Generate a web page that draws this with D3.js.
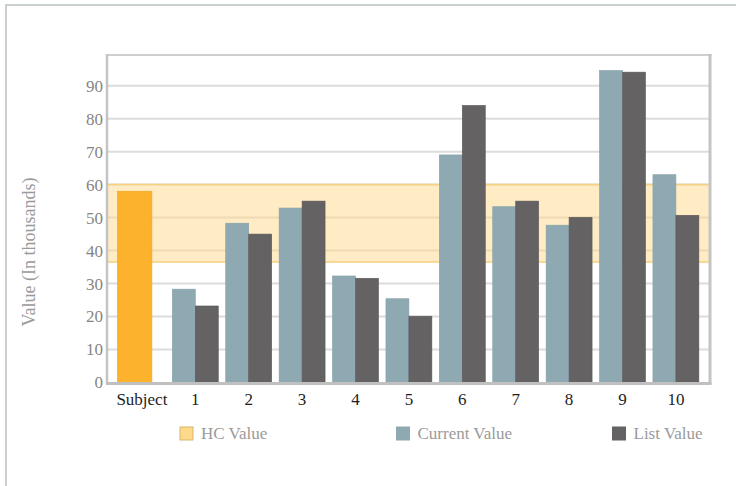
<!DOCTYPE html>
<html>
<head>
<meta charset="utf-8">
<script src="https://cdn.jsdelivr.net/npm/d3@7"></script>
<style>
  body { margin: 0; background: #fff; }
  svg text { font-family: "Liberation Serif", "Times New Roman", serif; }
  .axis path, .axis line { display: none; }
</style>
</head>
<body>
<svg id="chart" width="736" height="486"></svg>
<script>
var categories = ["Subject", "1", "2", "3", "4", "5", "6", "7", "8", "9", "10"];
var subjectValue = 58;
var currentValues = [28.3, 48.3, 52.9, 32.3, 25.4, 69.0, 53.3, 47.7, 94.6, 63.0];
var listValues = [23.2, 45.0, 55.0, 31.6, 20.1, 84.0, 55.0, 50.1, 94.1, 50.7];
var hcRange = [36.5, 60];
var yTicks = [0, 10, 20, 30, 40, 50, 60, 70, 80, 90];
var legendLabels = ["HC Value", "Current Value", "List Value"];

var svg = d3.select("#chart"),
    plot = {left: 107, right: 710, top: 55, bottom: 382.5};

// outer frame
svg.append("rect")
    .attr("x", 6).attr("y", 5)
    .attr("width", 760).attr("height", 520)
    .attr("fill", "none")
    .attr("stroke", "#c9d0d0")
    .attr("stroke-width", 2);

var x = d3.scaleBand()
    .domain(categories)
    .range([115.2, 702.6])
    .paddingInner(0.14)
    .paddingOuter(0.07);

var y = d3.scaleLinear()
    .domain([0, 99.3])
    .range([plot.bottom, plot.top]);

// gridlines
svg.append("g")
    .selectAll("line")
    .data(yTicks.slice(1))
    .enter().append("line")
      .attr("x1", plot.left).attr("x2", plot.right)
      .attr("y1", function(d) { return y(d); })
      .attr("y2", function(d) { return y(d); })
      .attr("stroke", "#dcdcdc")
      .attr("stroke-width", 2);

// HC band
svg.append("rect")
    .attr("x", plot.left)
    .attr("y", y(hcRange[1]))
    .attr("width", plot.right - plot.left)
    .attr("height", y(hcRange[0]) - y(hcRange[1]))
    .attr("fill", "#ffd98a")
    .attr("fill-opacity", 0.5);

svg.selectAll(".hcline")
    .data(hcRange)
    .enter().append("line")
      .attr("class", "hcline")
      .attr("x1", plot.left).attr("x2", plot.right)
      .attr("y1", function(d) { return y(d); })
      .attr("y2", function(d) { return y(d); })
      .attr("stroke", "#f5d27f")
      .attr("stroke-width", 1.5);

// bars
var bw = x.bandwidth() / 2;

svg.append("rect")
    .attr("x", x("Subject") - 1.5)
    .attr("y", y(subjectValue))
    .attr("width", x.bandwidth() * 0.75)
    .attr("height", y(0) - y(subjectValue))
    .attr("fill", "#fdb22e")
    .attr("stroke", "#f0a520")
    .attr("stroke-width", 0.6);

var groups = categories.slice(1);

svg.append("g")
    .selectAll("rect")
    .data(currentValues)
    .enter().append("rect")
      .attr("x", function(d, i) { return x(groups[i]); })
      .attr("y", function(d) { return y(d); })
      .attr("width", bw)
      .attr("height", function(d) { return y(0) - y(d); })
      .attr("fill", "#8ea9b1")
      .attr("stroke", "#84a0a8")
      .attr("stroke-width", 0.6);

svg.append("g")
    .selectAll("rect")
    .data(listValues)
    .enter().append("rect")
      .attr("x", function(d, i) { return x(groups[i]) + bw; })
      .attr("y", function(d) { return y(d); })
      .attr("width", bw)
      .attr("height", function(d) { return y(0) - y(d); })
      .attr("fill", "#646262")
      .attr("stroke", "#5a5858")
      .attr("stroke-width", 0.6);

// plot frame
svg.append("line")
    .attr("x1", plot.left).attr("x2", plot.right + 1.5)
    .attr("y1", plot.top).attr("y2", plot.top)
    .attr("stroke", "#cfcfcf").attr("stroke-width", 2);
svg.append("line")
    .attr("x1", plot.right).attr("x2", plot.right)
    .attr("y1", plot.top - 1).attr("y2", plot.bottom + 2)
    .attr("stroke", "#c4c4c4").attr("stroke-width", 3);
svg.append("line")
    .attr("x1", plot.left).attr("x2", plot.left)
    .attr("y1", plot.top - 1).attr("y2", plot.bottom + 2)
    .attr("stroke", "#c4c4c4").attr("stroke-width", 2.5);
svg.append("line")
    .attr("x1", plot.left - 1).attr("x2", plot.right + 1.5)
    .attr("y1", plot.bottom + 1).attr("y2", plot.bottom + 1)
    .attr("stroke", "#c0c0c0").attr("stroke-width", 3);

// axes
svg.append("g")
    .attr("class", "axis axis--y")
    .attr("transform", "translate(" + plot.left + ",0)")
    .call(d3.axisLeft(y).tickValues(yTicks).tickSize(0).tickPadding(4))
    .selectAll("text")
      .attr("fill", "#858585")
      .style("font-size", "17px");

svg.append("g")
    .attr("class", "axis axis--x")
    .attr("transform", "translate(0," + plot.bottom + ")")
    .call(d3.axisBottom(x).tickSize(0).tickPadding(10))
    .selectAll("text")
      .attr("fill", "#1e1e1e")
      .style("font-size", "17px");

svg.append("text")
    .attr("transform", "translate(35,252) rotate(-90)")
    .attr("text-anchor", "middle")
    .attr("fill", "#9a9a9a")
    .style("font-size", "18px")
    .text("Value (In thousands)");

// legend
var legendX = [180, 396.5, 612.5],
    legendFill = ["#fed98a", "#8ea9b1", "#646262"],
    legendStroke = ["#d8b56c", "#8ea9b1", "#646262"];

var legend = svg.append("g")
    .selectAll("g")
    .data(legendLabels)
    .enter().append("g")
      .attr("transform", function(d, i) { return "translate(" + legendX[i] + ",427)"; });

legend.append("rect")
    .attr("width", 13).attr("height", 13)
    .attr("fill", function(d, i) { return legendFill[i]; })
    .attr("stroke", function(d, i) { return legendStroke[i]; });

legend.append("text")
    .attr("x", 21).attr("y", 11.5)
    .attr("fill", "#9a9a9a")
    .style("font-size", "17px")
    .text(function(d) { return d; });
</script>
</body>
</html>
